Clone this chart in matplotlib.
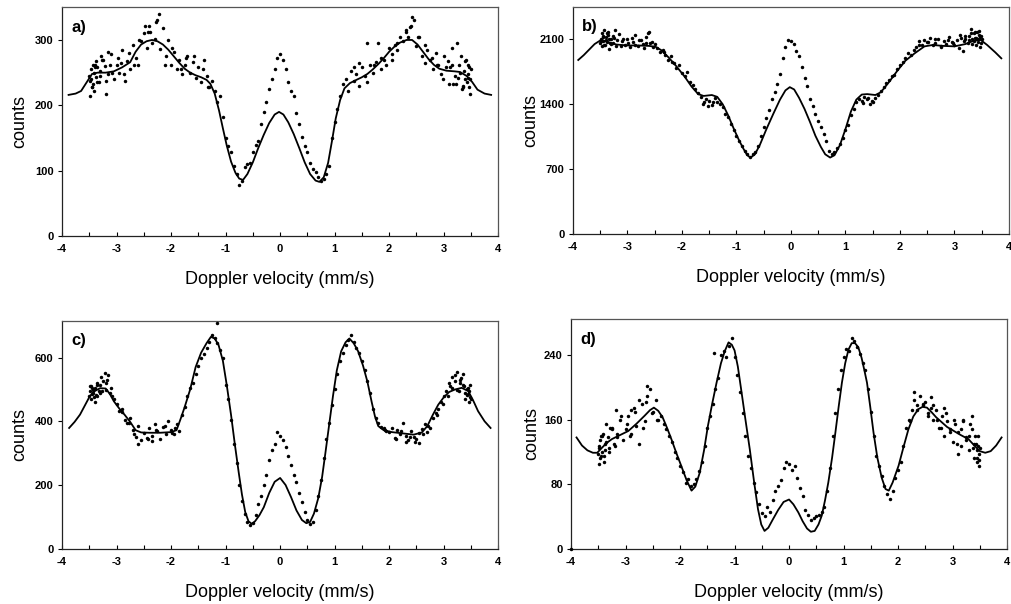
import numpy as np
import matplotlib
matplotlib.use('Agg')
import matplotlib.pyplot as plt

plt.rcParams['font.family'] = ['Liberation Sans', 'DejaVu Sans']
plt.rcParams['axes.unicode_minus'] = False

# velocity channels of the measured spectra (mm/s)
channels = np.round(np.arange(-3.50, 3.5001, 0.05), 2)

# ---- a) ----
fit_a_x = [-3.88, -3.75, -3.65, -3.55, -3.45, -3.35, -3.2, -3.05, -2.9, -2.75, -2.65, -2.55, -2.45,
           -2.35, -2.25, -2.15, -2.05, -1.95, -1.85, -1.75, -1.65, -1.55, -1.45, -1.35, -1.28, -1.2,
           -1.12, -1.05, -0.98, -0.9, -0.82, -0.75, -0.68, -0.6, -0.5, -0.4, -0.3, -0.2, -0.1, -0.02,
           0.06, 0.15, 0.25, 0.35, 0.45, 0.55, 0.65, 0.72, 0.8, 0.88, 0.95, 1.02, 1.1, 1.18, 1.28,
           1.4, 1.5, 1.6, 1.7, 1.8, 1.9, 2.0, 2.1, 2.2, 2.32, 2.42, 2.52, 2.62, 2.72, 2.82, 2.92,
           3.05, 3.2, 3.3, 3.42, 3.52, 3.62, 3.75, 3.87]
fit_a_y = [216, 218, 222, 235, 248, 250, 250, 252, 258, 266, 282, 293, 298,
           300, 298, 293, 285, 275, 265, 256, 250, 246, 243, 239, 233, 218,
           192, 165, 139, 114, 97, 88, 86, 95, 113, 135, 155, 173, 186, 190,
           186, 174, 156, 135, 113, 95, 85, 83, 90, 112, 145, 180, 208, 226, 234,
           239, 243, 248, 255, 263, 272, 282, 290, 296, 300, 300, 293, 282, 271, 262, 256,
           253, 252, 251, 245, 236, 224, 218, 216]
data_a = [245, 228, 262, 236, 252, 270, 218, 248, 278, 240,
          262, 250, 284, 238, 268, 255, 292, 272, 262, 298,
          310, 288, 322, 296, 302, 330, 286, 318, 275, 300,
          262, 282, 255, 270, 248, 262, 275, 250, 266, 242,
          258, 235, 270, 245, 228, 238, 222, 205, 215, 182,
          150, 138, 128, 108, 95, 78, 85, 105, 110, 112,
          128, 140, 145, 172, 190, 205, 225, 240, 255, 272,
          278, 270, 255, 235, 222, 215, 188, 172, 152, 138,
          128, 112, 102, 98, 90, 85, 88, 95, 108, 150,
          175, 195, 215, 232, 240, 222, 252, 238, 248, 230,
          258, 245, 236, 262, 250, 266, 295, 255, 270, 262,
          288, 278, 292, 285, 305, 298, 315, 305, 322, 330,
          290, 305, 275, 265, 285, 270, 255, 280, 262, 248,
          275, 258, 232, 262, 245, 295, 250, 228, 268, 242,
          255]
extra_a_x = [-3.48, -3.47, -3.46, -3.44, -3.43, -3.42, -3.41, -3.39, -3.38, -3.37, -3.33, -3.28,
             -3.22, -3.15, -2.42, -2.28, -2.22, -1.58, 1.6, 2.3, 2.38, 2.42, 3.15, 3.22, 3.28,
             3.33, 3.37, 3.39, 3.41, 3.42, 3.44, 3.46, 3.47, 3.48,
             -3.49, -3.45, -3.36, -3.31, -3.26, -3.19, -3.12, -3.08, -2.98, -2.92, -2.86, -2.78,
             -2.68, -2.58, -2.48, -2.38, -2.12, -1.98, -1.82, -1.72, -1.42, -1.32, 1.35, 1.45,
             1.72, 1.85, 2.05, 2.15, 2.52, 2.65, 2.78, 2.88, 2.98, 3.08, 3.12, 3.18, 3.26, 3.31,
             3.36, 3.45, 3.49]
extra_a_y = [215, 255, 240, 262, 232, 250, 222, 258, 244, 268, 235, 275,
             260, 282, 312, 328, 340, 275, 295, 312, 320, 335, 288, 232, 262,
             225, 252, 240, 270, 235, 248, 228, 258, 218,
             238, 228, 258, 245, 270, 238, 262, 250, 272, 265, 248, 280,
             262, 300, 322, 312, 262, 288, 255, 272, 255, 228, 258, 265,
             262, 272, 270, 295, 305, 292, 272, 262, 240, 268, 258, 232, 242, 275,
             230, 262, 240]

# ---- b) ----
fit_b_x = [-3.9, -3.8, -3.7, -3.6, -3.48, -3.35, -3.2, -3.0, -2.8, -2.6, -2.48, -2.38, -2.25,
           -2.1, -1.95, -1.82, -1.7, -1.6, -1.45, -1.35, -1.25, -1.15, -1.05, -0.95, -0.87,
           -0.8, -0.74, -0.66, -0.57, -0.45, -0.32, -0.2, -0.1, -0.02, 0.06, 0.15, 0.25, 0.35,
           0.45, 0.55, 0.63, 0.72, 0.8, 0.9, 1.0, 1.1, 1.2, 1.3, 1.4, 1.55, 1.65, 1.8, 1.95,
           2.1, 2.27, 2.45, 2.6, 2.8, 3.0, 3.2, 3.35, 3.48, 3.6, 3.75, 3.86]
fit_b_y = [1878, 1930, 1990, 2050, 2095, 2070, 2045, 2035, 2035, 2030, 2020, 1985, 1910,
           1810, 1700, 1590, 1510, 1490, 1500, 1480, 1400, 1280, 1140, 1010, 920,
           850, 825, 860, 960, 1130, 1300, 1450, 1550, 1585, 1560, 1470, 1350, 1210,
           1060, 940, 860, 825, 850, 960, 1130, 1320, 1450, 1505, 1510, 1500, 1530, 1640, 1760,
           1870, 1950, 2025, 2040, 2030, 2025, 2050, 2085, 2095, 2040, 1960, 1896]
data_b = [2060, 2140, 2090, 2180, 2050, 2120, 2030, 2160, 2080, 2040,
          2110, 2020, 2070, 2150, 2030, 2090, 2010, 2060, 2180, 2070,
          2050, 2010, 1960, 1990, 1930, 1880, 1920, 1850, 1790, 1820,
          1740, 1700, 1750, 1640, 1610, 1560, 1520, 1480, 1420, 1460,
          1440, 1390, 1470, 1430, 1400, 1370, 1300, 1260, 1190, 1120,
          1060, 1000, 950, 900, 860, 830, 860, 880, 950, 1060,
          1150, 1250, 1340, 1460, 1530, 1620, 1730, 1900, 2020, 2090,
          2080, 2050, 1980, 1920, 1800, 1680, 1600, 1460, 1380, 1300,
          1220, 1150, 1080, 1000, 900, 860, 880, 930, 970, 1040,
          1120, 1180, 1280, 1350, 1420, 1460, 1440, 1480, 1460, 1400,
          1430, 1470, 1500, 1540, 1590, 1630, 1660, 1700, 1720, 1780,
          1820, 1860, 1900, 1950, 1930, 1990, 2020, 2080, 2040, 2090,
          2070, 2120, 2040, 2060, 2110, 2020, 2080, 2050, 2130, 2070,
          2040, 2090, 2150, 1980, 2100, 2060, 2170, 2080, 2120, 2190,
          2100]
extra_b_x = [-3.49, -3.47, -3.46, -3.44, -3.42, -3.41, -3.39, -3.37, -3.36, -3.33, -3.3, -3.27,
             -3.22, -2.62, 3.2, 3.27, 3.3, 3.33, 3.36, 3.38, 3.4, 3.42, 3.43, 3.45, 3.47, 3.48,
             -3.48, -3.45, -3.43, -3.38, -3.34, -3.31, -3.26, -3.18, -3.12, -3.08, -2.98, -2.92,
             -2.85, -2.78, -2.72, -2.66, -2.58, -2.52, -2.32, -2.18, -1.62, -1.52, -1.42, 1.32,
             1.42, 1.48, 2.35, 2.52, 2.65, 2.75, 2.88, 2.98, 3.08, 3.12, 3.18, 3.26, 3.32, 3.38,
             3.44, 3.46, 3.49]
extra_b_y = [2110, 2030, 2170, 2080, 2200, 2040, 2130, 2070, 2150, 2000, 2100, 2060,
             2200, 2170, 2140, 2090, 2210, 2050, 2170, 2120, 2040, 2180, 2100, 2150, 2020, 2140,
             2080, 2130, 2040, 2170, 2100, 2060, 2140, 2090, 2030, 2110, 2060, 2120,
             2040, 2090, 2050, 2130, 2060, 2020, 1960, 1860, 1400, 1380, 1420, 1410,
             1470, 1440, 2040, 2070, 2100, 2030, 2090, 2060, 2010, 2120, 2080, 2140, 2100, 2180,
             2070, 2130, 2060]

# ---- c) ----
fit_c_x = [-3.87, -3.77, -3.67, -3.58, -3.49, -3.4, -3.3, -3.2, -3.12, -3.05, -2.95, -2.85, -2.75,
           -2.65, -2.55, -2.4, -2.2, -2.0, -1.9, -1.82, -1.75, -1.65, -1.55, -1.45, -1.35, -1.27,
           -1.2, -1.13, -1.05, -0.98, -0.9, -0.83, -0.76, -0.7, -0.64, -0.58, -0.52, -0.46, -0.38,
           -0.3, -0.2, -0.1, 0.0, 0.1, 0.2, 0.3, 0.4, 0.48, 0.55, 0.62, 0.7, 0.77, 0.83, 0.9,
           0.97, 1.04, 1.12, 1.2, 1.27, 1.35, 1.43, 1.52, 1.6, 1.68, 1.74, 1.8, 1.9, 2.05, 2.25,
           2.45, 2.6, 2.7, 2.8, 2.9, 3.0, 3.1, 3.21, 3.33, 3.45, 3.55, 3.63, 3.75, 3.86]
fit_c_y = [379, 398, 421, 450, 479, 495, 504, 503, 485, 463, 440, 420, 398,
           372, 365, 364, 364, 366, 372, 410, 445, 500, 570, 615, 645, 665,
           660, 640, 590, 515, 420, 327, 240, 170, 115, 86, 78, 86, 105,
           130, 175, 210, 222, 200, 162, 120, 90, 80, 84, 110, 159, 225, 300, 390,
           480, 560, 620, 648, 660, 645, 620, 575, 525, 460, 415, 385, 372, 366, 362,
           358, 365, 385, 420, 452, 475, 492, 500, 505, 495, 462, 432, 400, 379]
data_c = [478, 505, 462, 515, 490, 528, 498, 545, 506, 470,
          455, 432, 440, 405, 395, 410, 372, 350, 385, 340,
          362, 348, 378, 355, 390, 368, 345, 382, 360, 400,
          372, 360, 390, 370, 420, 445, 478, 505, 520, 548,
          575, 600, 612, 630, 648, 672, 660, 645, 625, 600,
          515, 470, 405, 330, 270, 200, 150, 110, 85, 75,
          80, 105, 140, 165, 200, 230, 280, 310, 330, 365,
          355, 340, 320, 290, 262, 230, 210, 175, 145, 115,
          90, 78, 85, 120, 165, 215, 285, 345, 395, 450,
          500, 550, 590, 615, 640, 655, 672, 650, 630, 615,
          590, 560, 525, 490, 440, 410, 395, 382, 380, 370,
          365, 380, 348, 372, 360, 395, 355, 340, 370, 350,
          345, 362, 375, 390, 365, 380, 410, 425, 440, 462,
          478, 495, 520, 505, 545, 498, 530, 515, 488, 505,
          470]
extra_c_x = [-3.49, -3.47, -3.46, -3.44, -3.42, -3.4, -3.38, -3.35, -3.32, -3.28, -3.22, -3.18,
             -2.6, -2.35, -1.16, 2.3, 2.55, 3.15, 3.25, 3.3, 3.36, 3.4, 3.43, 3.45, 3.47, 3.48,
             -3.48, -3.45, -3.43, -3.39, -3.36, -3.31, -3.26, -3.2, -3.12, -3.08, -2.9, -2.78,
             -2.68, -2.42, -2.28, -2.12, -1.98, -1.92, 1.92, 2.12, 2.22, 2.38, 2.48, 2.62, 2.72,
             2.88, 2.98, 3.08, 3.12, 3.2, 3.28, 3.32, 3.38, 3.42, 3.46, 3.49]
extra_c_y = [495, 470, 510, 488, 475, 502, 482, 520, 495, 540, 552, 530,
             330, 338, 709, 335, 332, 540, 555, 520, 548, 470, 500, 485, 460, 515,
             512, 485, 498, 505, 478, 515, 495, 520, 490, 480, 430, 395,
             360, 345, 372, 385, 362, 378, 372, 345, 370, 350, 335, 360, 385,
             420, 455, 480, 510, 525, 495, 535, 510, 482, 495, 475]

# ---- d) ----
fit_d_x = [-3.9, -3.8, -3.7, -3.6, -3.52, -3.45, -3.35, -3.25, -3.1, -2.95, -2.8, -2.65, -2.55,
           -2.48, -2.4, -2.32, -2.24, -2.16, -2.07, -1.98, -1.88, -1.79, -1.72, -1.64, -1.56,
           -1.49, -1.41, -1.33, -1.25, -1.18, -1.11, -1.05, -1.0, -0.94, -0.88, -0.8, -0.72,
           -0.64, -0.57, -0.51, -0.45, -0.38, -0.3, -0.2, -0.1, 0.0, 0.08, 0.17, 0.25, 0.33,
           0.4, 0.47, 0.54, 0.6, 0.66, 0.72, 0.79, 0.85, 0.91, 0.97, 1.03, 1.09, 1.15, 1.21,
           1.27, 1.33, 1.38, 1.43, 1.49, 1.55, 1.62, 1.7, 1.77, 1.83, 1.9, 2.01, 2.1, 2.19,
           2.28, 2.37, 2.45, 2.53, 2.62, 2.7, 2.8, 2.9, 3.0, 3.15, 3.29, 3.4, 3.5, 3.6, 3.7,
           3.8, 3.9]
fit_d_y = [138, 128, 122, 119, 119, 124, 131, 136, 141, 146, 155, 165, 172,
           175, 171, 163, 150, 136, 119, 103, 85, 72, 77, 94, 122,
           152, 180, 206, 230, 245, 256, 253, 246, 226, 198, 160, 123,
           82, 49, 30, 22, 26, 36, 48, 58, 61, 55, 45, 34, 25,
           21, 22, 30, 41, 60, 82, 113, 144, 176, 206, 230, 247, 255, 255,
           250, 237, 222, 206, 176, 144, 113, 88, 74, 72, 82, 103, 126, 148,
           164, 173, 176, 175, 169, 163, 157, 151, 147, 141, 136, 128, 121, 119, 121,
           128, 138]
data_d = [118, 140, 108, 132, 125, 150, 128, 138, 160, 135,
          148, 165, 142, 175, 152, 130, 180, 158, 190, 198,
          170, 185, 160, 165, 155, 148, 140, 132, 120, 112,
          102, 95, 82, 86, 78, 80, 86, 96, 108, 128,
          150, 165, 180, 198, 212, 240, 245, 238, 252, 262,
          238, 215, 195, 168, 140, 115, 100, 82, 70, 55,
          44, 40, 52, 46, 60, 72, 78, 85, 100, 108,
          105, 98, 102, 88, 75, 65, 48, 42, 35, 38,
          40, 42, 45, 52, 72, 100, 140, 168, 198, 222,
          238, 248, 245, 262, 258, 250, 242, 230, 222, 198,
          170, 140, 115, 102, 90, 78, 68, 62, 72, 88,
          98, 108, 128, 150, 160, 172, 185, 178, 190, 178,
          182, 168, 175, 160, 172, 150, 165, 140, 158, 148,
          132, 155, 145, 128, 160, 138, 122, 148, 130, 108,
          125]
extra_d_x = [-4.0, -3.49, -3.48, -3.47, -3.46, -3.44, -3.42, -3.4, -3.38, -3.35, -3.3, -3.25,
             -3.18, -2.9, -2.75, -2.6, -1.37, 2.3, 2.6, 2.85, 3.1, 3.2, 3.3, 3.36, 3.4, 3.43,
             3.45, 3.47, 3.48, 3.49,
             -3.48, -3.45, -3.43, -3.38, -3.33, -3.28, -3.22, -3.15, -3.08, -2.98, -2.92, -2.82,
             -2.68, -2.62, -2.52, -2.42, 2.22, 2.35, 2.45, 2.55, 2.65, 2.72, 2.78, 2.88, 2.95,
             3.02, 3.08, 3.15, 3.25, 3.32, 3.38, 3.42, 3.44, 3.46, 3.49]
extra_d_y = [0, 105, 128, 112, 135, 120, 142, 115, 130, 155, 120, 148,
             172, 172, 185, 202, 243, 195, 188, 175, 118, 158, 140, 165, 112, 130,
             122, 140, 103, 118,
             125, 115, 140, 122, 138, 150, 130, 142, 165, 155, 140, 170,
             150, 182, 168, 160, 158, 172, 180, 165, 178, 160, 150, 168, 145,
             160, 130, 148, 135, 155, 125, 140, 112, 128, 110]

fig = plt.figure(figsize=(10.12, 6.04), dpi=100)


def panel(rect, letter, fit_x, fit_y, data_y, ex_x, ex_y, yticks, ytop, ylpad):
    ax = fig.add_axes(rect)
    ax.plot(fit_x, fit_y, color='black', lw=1.3, zorder=2)
    ax.plot(channels, data_y, 'o', ms=2.5, color='black', mec='none', zorder=3)
    ax.plot(ex_x, ex_y, 'o', ms=2.5, color='black', mec='none', zorder=3, clip_on=False)
    ax.set_xlim(-4, 4)
    ax.set_ylim(0, ytop)
    ax.set_xticks(range(-4, 5))
    ax.set_xticks(np.arange(-3.5, 4, 1.0), minor=True)
    ax.set_yticks(yticks)
    ax.tick_params(axis='x', which='both', direction='in', length=3, width=0.8,
                   labelsize=8, pad=6)
    ax.tick_params(axis='y', direction='out', length=3, width=0.8, labelsize=8, pad=3)
    for lab in ax.get_xticklabels() + ax.get_yticklabels():
        lab.set_fontweight('bold')
    for side in ['left', 'bottom']:
        ax.spines[side].set_color('#222222')
        ax.spines[side].set_linewidth(0.9)
    for side in ['top', 'right']:
        ax.spines[side].set_color('#555555')
        ax.spines[side].set_linewidth(0.9)
    ax.set_xlabel('Doppler velocity (mm/s)', fontsize=13, labelpad=12)
    ax.set_ylabel('counts', fontsize=13, labelpad=ylpad)
    ax.text(0.021, 0.945, letter, transform=ax.transAxes, ha='left', va='top',
            fontsize=12, fontweight='bold')
    return ax


panel([0.0613, 0.609, 0.431, 0.379], 'a)', fit_a_x, fit_a_y, data_a, extra_a_x, extra_a_y,
      [0, 100, 200, 300], 350, 5)
panel([0.566, 0.6126, 0.431, 0.3758], 'b)', fit_b_x, fit_b_y, data_b, extra_b_x, extra_b_y,
      [0, 700, 1400, 2100], 2450, 0)
panel([0.0613, 0.0916, 0.431, 0.377], 'c)', fit_c_x, fit_c_y, data_c, extra_c_x, extra_c_y,
      [0, 200, 400, 600], 715, 5)
panel([0.5643, 0.0916, 0.4308, 0.3803], 'd)', fit_d_x, fit_d_y, data_d, extra_d_x, extra_d_y,
      [0, 80, 160, 240], 285, 3)

fig.savefig('out.png', dpi=100, facecolor='white')
